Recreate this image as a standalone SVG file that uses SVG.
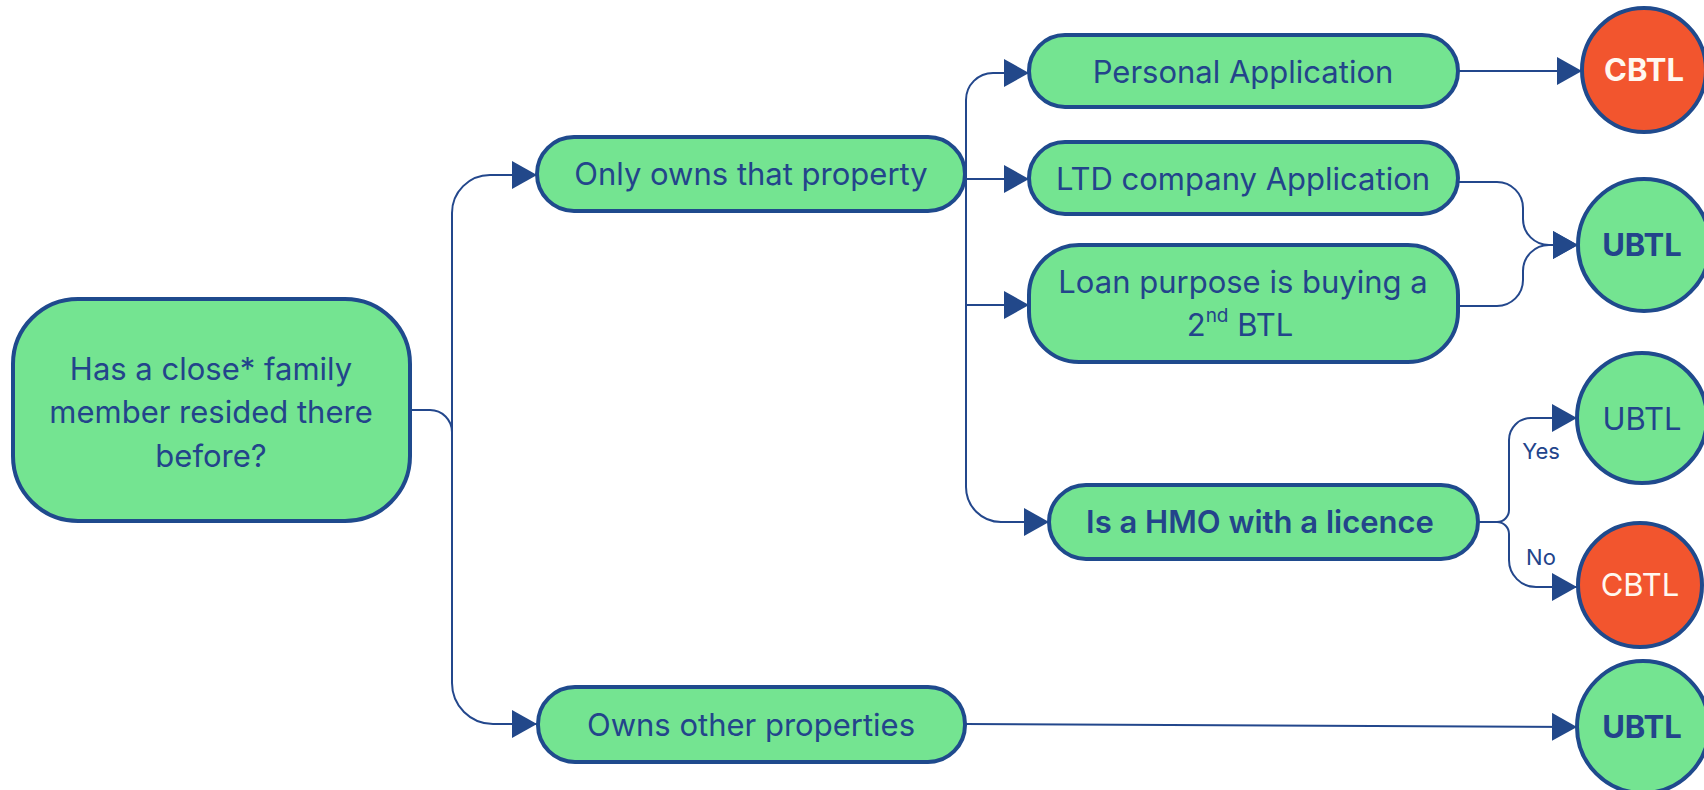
<svg xmlns="http://www.w3.org/2000/svg" width="1704" height="790" viewBox="0 0 1704 790">
<defs>
<style>
.box{fill:#74E491;stroke:#1F4A8D;stroke-width:4}
.red{fill:#F2552E;stroke:#1F4A8D;stroke-width:4}
.t{font-family:Inter,"Noto Sans",sans-serif;font-size:31px;fill:#23448B;text-anchor:middle}
.b{font-weight:700}
.sb{font-weight:600}
.w{fill:#FFF8F0}
.lbl{font-family:Inter,"Noto Sans",sans-serif;font-size:22px;fill:#23448B;text-anchor:middle}
.c{fill:none;stroke:#23478C;stroke-width:2}
</style>
<marker id="ah" markerUnits="userSpaceOnUse" markerWidth="26" markerHeight="28" refX="25" refY="14" orient="auto">
<path d="M0,0 L25,14 L0,28 Z" fill="#22488A"/>
</marker>
</defs>
<rect width="1704" height="790" fill="#FFFFFF"/>
<g id="connectors">
<path class="c" d="M410,410 H430 A22,22 0 0 1 452,432 V683 A41,41 0 0 0 493,724 H537" marker-end="url(#ah)"/>
<path class="c" d="M452,432 V213 A38,38 0 0 1 490,175 H537" marker-end="url(#ah)"/>
<path class="c" d="M965,179 H1029" marker-end="url(#ah)"/>
<path class="c" d="M966,179 V100 A27,27 0 0 1 993,73 H1029" marker-end="url(#ah)"/>
<path class="c" d="M966,179 V305 H1029" marker-end="url(#ah)"/>
<path class="c" d="M966,305 V487 A35,35 0 0 0 1001,522 H1049" marker-end="url(#ah)"/>
<path class="c" d="M1458,71 H1582" marker-end="url(#ah)"/>
<path class="c" d="M1458,182 H1497 A26,26 0 0 1 1523,208 V219 A26,26 0 0 0 1549,245 H1578" marker-end="url(#ah)"/>
<path class="c" d="M1458,306 H1497 A26,26 0 0 0 1523,280 V271 A26,26 0 0 1 1549,245 H1578" marker-end="url(#ah)"/>
<path class="c" d="M1478,522 H1497 A12,12 0 0 0 1509,510 V440 A22,22 0 0 1 1531,418 H1577" marker-end="url(#ah)"/>
<path class="c" d="M1478,522 H1497 A12,12 0 0 1 1509,534 V560 A27,27 0 0 0 1536,587 H1577" marker-end="url(#ah)"/>
<path class="c" d="M965,724 L1577,727" marker-end="url(#ah)"/>
<text class="lbl" x="1541" y="459">Yes</text>
<text class="lbl" x="1541" y="565">No</text>
</g>
<g id="n-root">
<rect class="box" x="13" y="299" width="397" height="222" rx="65" ry="65"/>
<text class="t" x="211" y="380">Has a close* family</text>
<text class="t" x="211" y="423">member resided there</text>
<text class="t" x="211" y="467">before?</text>
</g>
<g id="n-only">
<rect class="box" x="537" y="137" width="428" height="74" rx="37" ry="37"/>
<text class="t" x="751" y="185">Only owns that property</text>
</g>
<g id="n-other">
<rect class="box" x="538" y="687" width="427" height="75" rx="37" ry="37"/>
<text class="t" x="751" y="736">Owns other properties</text>
</g>
<g id="n-personal">
<rect class="box" x="1029" y="35" width="429" height="72" rx="36" ry="36"/>
<text class="t" x="1243" y="83">Personal Application</text>
</g>
<g id="n-ltd">
<rect class="box" x="1029" y="142" width="429" height="72" rx="36" ry="36"/>
<text class="t" x="1243" y="190">LTD company Application</text>
</g>
<g id="n-loan">
<rect class="box" x="1029" y="245" width="429" height="117" rx="50" ry="50"/>
<text class="t" x="1243" y="293">Loan purpose is buying a</text>
<text class="t" x="1240" y="336">2<tspan font-size="19" dy="-14">nd</tspan><tspan dy="14"> BTL</tspan></text>
</g>
<g id="n-hmo">
<rect class="box" x="1049" y="485" width="429" height="74" rx="37" ry="37"/>
<text class="t sb" x="1260" y="533">Is a HMO with a licence</text>
</g>
<g id="n-cbtl1">
<circle class="red" cx="1644" cy="70" r="62"/>
<text class="t b w" x="1644" y="81">CBTL</text>
</g>
<g id="n-ubtl1">
<circle class="box" cx="1644" cy="245" r="66"/>
<text class="t b" x="1642" y="256">UBTL</text>
</g>
<g id="n-ubtl2">
<circle class="box" cx="1642" cy="418" r="65"/>
<text class="t" x="1642" y="430">UBTL</text>
</g>
<g id="n-cbtl2">
<circle class="red" cx="1640" cy="585" r="62"/>
<text class="t w" x="1640" y="596">CBTL</text>
</g>
<g id="n-ubtl3">
<circle class="box" cx="1643" cy="727" r="66"/>
<text class="t b" x="1642" y="738">UBTL</text>
</g>
</svg>
